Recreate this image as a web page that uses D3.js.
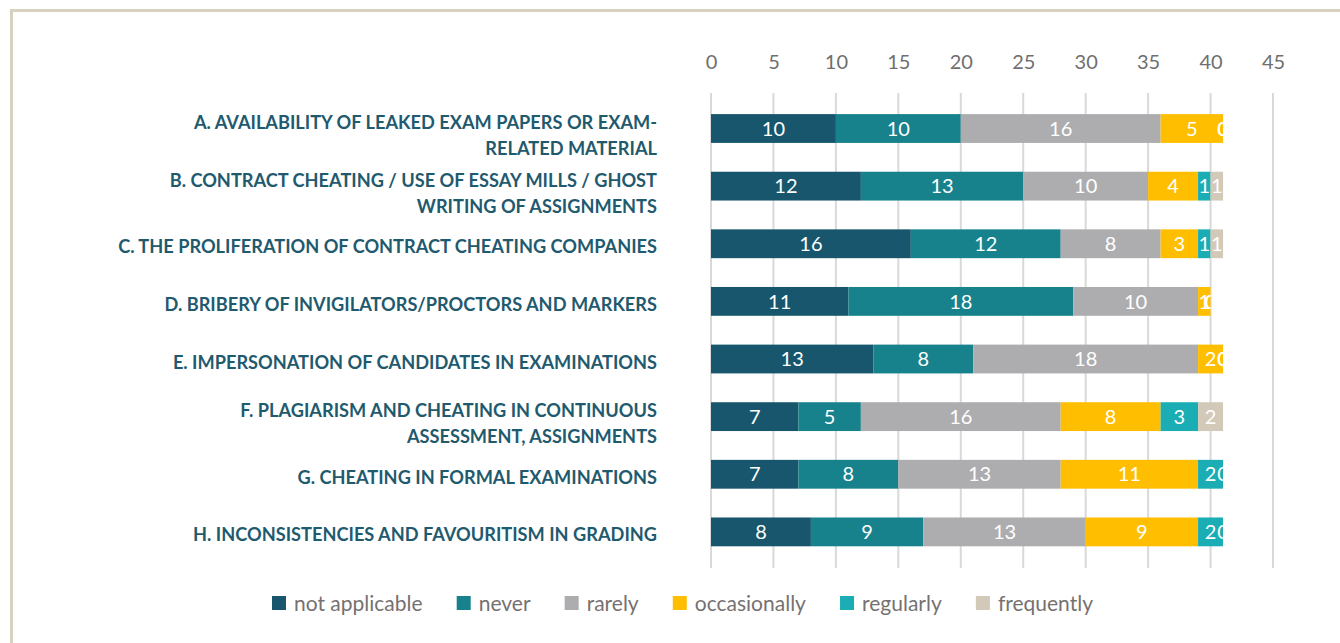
<!DOCTYPE html>
<html>
<head>
<meta charset="utf-8">
<script src="https://cdn.jsdelivr.net/npm/d3@7"></script>
<style>
  body { margin: 0; background: #fff; }
  svg { display: block; }
  .tick text { font-family: Lato, sans-serif; }
</style>
</head>
<body>
<div id="chart"></div>
<script>
// categories (line breaks as in the original)
var categories = [
  "A. AVAILABILITY OF LEAKED EXAM PAPERS OR EXAM-\nRELATED MATERIAL",
  "B. CONTRACT CHEATING / USE OF ESSAY MILLS / GHOST\nWRITING OF ASSIGNMENTS",
  "C. THE PROLIFERATION OF CONTRACT CHEATING COMPANIES",
  "D. BRIBERY OF INVIGILATORS/PROCTORS AND MARKERS",
  "E. IMPERSONATION OF CANDIDATES IN EXAMINATIONS",
  "F. PLAGIARISM AND CHEATING IN CONTINUOUS\nASSESSMENT, ASSIGNMENTS",
  "G. CHEATING IN FORMAL EXAMINATIONS",
  "H. INCONSISTENCIES AND FAVOURITISM IN GRADING"
];

var seriesNames = ["not applicable", "never", "rarely", "occasionally", "regularly", "frequently"];
var seriesColors = ["#17566c", "#17828c", "#adadb0", "#ffbf00", "#1aadb4", "#d3c9b8"];

var notApplicable = [10, 12, 16, 11, 13, 7, 7, 8];
var never         = [10, 13, 12, 18, 8, 5, 8, 9];
var rarely        = [16, 10, 8, 10, 18, 16, 13, 13];
var occasionally  = [5, 4, 3, 1, 2, 8, 11, 9];
var regularly     = [0, 1, 1, 0, 0, 3, 2, 2];
var frequently    = [0, 1, 1, 0, 0, 2, 0, 0];

var xTicks = [0, 5, 10, 15, 20, 25, 30, 35, 40, 45];

var seriesValues = [notApplicable, never, rarely, occasionally, regularly, frequently];

// build rows for the stack
var rows = categories.map(function(c, i) {
  var r = { cat: c };
  seriesNames.forEach(function(s, j) { r[s] = seriesValues[j][i]; });
  return r;
});

var width = 1340, height = 643;

var svg = d3.select("#chart").append("svg")
    .attr("width", width)
    .attr("height", height);

// frame
svg.append("rect")
    .attr("x", 11.5).attr("y", 10.5)
    .attr("width", width + 20).attr("height", height + 20)
    .attr("fill", "none")
    .attr("stroke", "#d9d1bf")
    .attr("stroke-width", 3);

var xScale = d3.scaleLinear()
    .domain([0, 45])
    .range([711, 1273]);

var yScale = d3.scaleBand()
    .domain(categories)
    .range([99.7, 560.7])
    .paddingInner(0.5)
    .paddingOuter(0.25);

// gridlines
svg.append("g")
    .selectAll("line")
    .data(xTicks)
  .enter().append("line")
    .attr("x1", function(d) { return xScale(d); })
    .attr("x2", function(d) { return xScale(d); })
    .attr("y1", 93)
    .attr("y2", 568)
    .attr("stroke", "#d9d9d9")
    .attr("stroke-width", 2);

// top axis
var xAxis = svg.append("g")
    .attr("transform", "translate(0,75)")
    .call(d3.axisTop(xScale).tickValues(xTicks).tickSize(0).tickPadding(0));
xAxis.select(".domain").remove();
xAxis.selectAll("text")
    .attr("fill", "#6f6f6f")
    .style("font-size", "20px")
    .attr("dy", "-0.3em");

var stack = d3.stack().keys(seriesNames);
var stacked = stack(rows);

// bars
var layers = svg.append("g").selectAll("g")
    .data(stacked)
  .enter().append("g")
    .attr("fill", function(d, i) { return seriesColors[i]; });

layers.selectAll("rect")
    .data(function(d) { return d; })
  .enter().append("rect")
    .attr("x", function(d) { return xScale(d[0]); })
    .attr("y", function(d) { return yScale(d.data.cat); })
    .attr("width", function(d) { return xScale(d[1]) - xScale(d[0]); })
    .attr("height", yScale.bandwidth());

// clip each row's labels to the bar's extent
var defs = svg.append("defs");
rows.forEach(function(r, i) {
  var total = d3.sum(seriesNames, function(s) { return r[s]; });
  defs.append("clipPath")
      .attr("id", "clip" + i)
    .append("rect")
      .attr("x", xScale(0))
      .attr("y", yScale(r.cat) - 5)
      .attr("width", xScale(total) - xScale(0))
      .attr("height", yScale.bandwidth() + 10);
});

// value labels
var labelGroups = svg.append("g").selectAll("g")
    .data(rows)
  .enter().append("g")
    .attr("clip-path", function(d, i) { return "url(#clip" + i + ")"; });

labelGroups.selectAll("text")
    .data(function(d, i) { return stacked.map(function(layer) { return layer[i]; }); })
  .enter().append("text")
    .attr("x", function(d) { return xScale((d[0] + d[1]) / 2); })
    .attr("y", function(d) { return yScale(d.data.cat) + yScale.bandwidth() / 2; })
    .attr("dy", "0.36em")
    .attr("text-anchor", "middle")
    .attr("fill", "#ffffff")
    .style("font-family", "Lato, sans-serif")
    .style("font-size", "20px")
    .text(function(d) { return d[1] - d[0]; });

// category labels
var catLabels = svg.append("g").selectAll("text")
    .data(categories)
  .enter().append("text")
    .attr("x", 657)
    .attr("y", function(d) {
      var lines = d.split("\n").length;
      var mid = yScale(d) + yScale.bandwidth() / 2;
      return lines > 1 ? mid - 6 : mid + 3;
    })
    .attr("text-anchor", "end")
    .attr("fill", "#1f5a6e")
    .style("font-family", "Lato, sans-serif")
    .style("font-weight", "bold")
    .style("font-size", "18.2px");

catLabels.each(function(d) {
  var t = d3.select(this);
  var lines = d.split("\n");
  lines.forEach(function(line, k) {
    t.append("tspan")
        .attr("x", 657)
        .attr("dy", k === 0 ? "0.36em" : "26px")
        .text(line);
  });
});

// legend
var legend = svg.append("g");
var items = [];
var textTotal = 0;
seriesNames.forEach(function(s, i) {
  var item = legend.append("g");
  item.append("rect")
      .attr("x", 0).attr("y", -7)
      .attr("width", 14).attr("height", 14)
      .attr("fill", seriesColors[i]);
  var txt = item.append("text")
      .attr("x", 22)
      .attr("y", 0)
      .attr("dy", "0.36em")
      .attr("fill", "#767171")
      .style("font-family", "Lato, sans-serif")
      .style("font-size", "21px")
      .text(s);
  var w = 22 + txt.node().getComputedTextLength();
  items.push({ g: item, w: w });
  textTotal += w;
});
var legendLeft = 272, legendRight = 1093;
var gap = (legendRight - legendLeft - textTotal) / (items.length - 1);
var lx = legendLeft;
items.forEach(function(it) {
  it.g.attr("transform", "translate(" + lx + ",0)");
  lx += it.w + gap;
});
legend.attr("transform", "translate(0,603)");
</script>
</body>
</html>
